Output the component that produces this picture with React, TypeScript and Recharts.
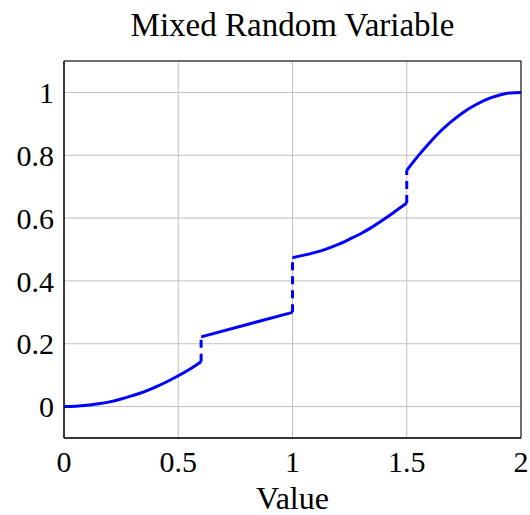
import {
  CartesianGrid,
  Label,
  Line,
  LineChart,
  ReferenceArea,
  XAxis,
  YAxis,
} from 'recharts'

// continuous parts of the CDF
const part1X = [0, 0.05, 0.1, 0.15, 0.2, 0.25, 0.3, 0.35, 0.4, 0.45, 0.5, 0.55, 0.6]
const part1Y = [0, 0.001, 0.004, 0.009, 0.015, 0.024, 0.035, 0.047, 0.062, 0.079, 0.098, 0.119, 0.143]

const part2X = [0.6, 1.0]
const part2Y = [0.222, 0.3]

const part3X = [1.0, 1.05, 1.1, 1.15, 1.2, 1.25, 1.3, 1.35, 1.4, 1.45, 1.5]
const part3Y = [0.474, 0.482, 0.491, 0.502, 0.516, 0.533, 0.551, 0.572, 0.596, 0.622, 0.648]

const part4X = [1.5, 1.55, 1.6, 1.65, 1.7, 1.75, 1.8, 1.85, 1.9, 1.95, 2.0]
const part4Y = [0.752, 0.798, 0.84, 0.878, 0.91, 0.938, 0.96, 0.978, 0.99, 0.998, 1.0]

// jumps (point masses)
const jumpX = [0.6, 1.0, 1.5]
const jumpLow = [0.143, 0.3, 0.648]
const jumpHigh = [0.222, 0.474, 0.752]

const xTicks = [0, 0.5, 1, 1.5, 2]
const yTicks = [0, 0.2, 0.4, 0.6, 0.8, 1]

const toRows = (xs: number[], ys: number[]) => xs.map((x, i) => ({ x, y: ys[i] }))

const parts = [
  toRows(part1X, part1Y),
  toRows(part2X, part2Y),
  toRows(part3X, part3Y),
  toRows(part4X, part4Y),
]
const jumps = jumpX.map((x, i) => [
  { x, y: jumpLow[i] },
  { x, y: jumpHigh[i] },
])

const font = "'Liberation Serif', 'DejaVu Serif', serif"
const tickStyle = { fill: '#000', fontSize: 30, fontFamily: font }

const App = () => {
  return (
    <div style={{ position: 'absolute', left: 0, top: 0, width: 530, height: 515 }}>
      <div
        style={{
          position: 'absolute',
          left: 64,
          top: 9,
          width: 457,
          textAlign: 'center',
          fontFamily: font,
          fontSize: 33,
          lineHeight: '33px',
          color: '#000',
        }}>
        Mixed Random Variable
      </div>
      <LineChart
        width={530}
        height={515}
        margin={{ top: 61, right: 9, left: 0, bottom: 0 }}>
        <CartesianGrid stroke='#bfbfbf' strokeWidth={1} />
        <XAxis
          type='number'
          dataKey='x'
          domain={[0, 2]}
          ticks={xTicks}
          allowDataOverflow
          height={77}
          tickSize={0}
          tickMargin={13}
          axisLine={{ stroke: '#000' }}
          tick={tickStyle}>
          <Label
            value='Value'
            position='insideBottom'
            offset={6}
            style={{ fill: '#000', fontSize: 32, fontFamily: font }}
          />
        </XAxis>
        <YAxis
          type='number'
          dataKey='y'
          domain={[-0.1, 1.1]}
          ticks={yTicks}
          allowDataOverflow
          width={64}
          tickSize={0}
          tickMargin={10}
          axisLine={{ stroke: '#000' }}
          tick={tickStyle}
        />
        <ReferenceArea
          x1={0}
          x2={2}
          y1={-0.1}
          y2={1.1}
          fill='none'
          stroke='#000'
          strokeWidth={1}
        />
        {parts.map((d, i) => (
          <Line
            key={'p' + i}
            data={d}
            dataKey='y'
            type='monotone'
            stroke='#0000ff'
            strokeWidth={3}
            dot={false}
            isAnimationActive={false}
          />
        ))}
        {jumps.map((d, i) => (
          <Line
            key={'j' + i}
            data={d}
            dataKey='y'
            type='linear'
            stroke='#0000ff'
            strokeWidth={3}
            strokeDasharray='8 6'
            dot={false}
            isAnimationActive={false}
          />
        ))}
      </LineChart>
    </div>
  )
}

export default App
